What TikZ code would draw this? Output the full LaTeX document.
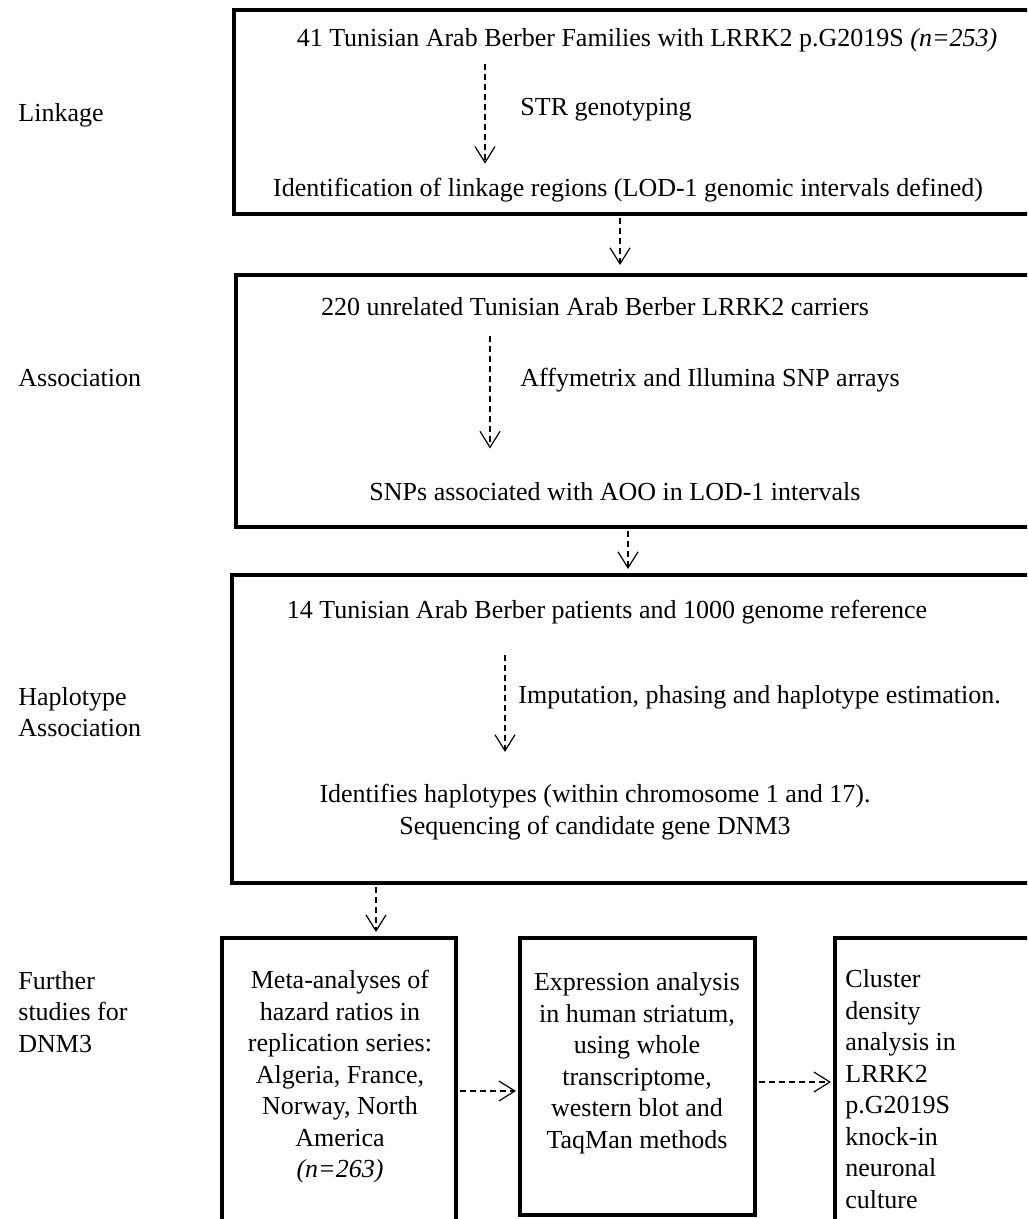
\documentclass[tikz,border=0pt]{standalone}
\usepackage{fontspec}
\setmainfont{Liberation Serif}
\usetikzlibrary{arrows.meta}
\tikzset{
    stage/.style={draw, line width=2pt, inner sep=0pt},
    txt/.style={inner sep=0pt, font=\fontsize{13pt}{15.75pt}\selectfont},
    side/.style={txt, anchor=west, align=left},
    flow/.style={densely dashed, line width=0.6pt, -{Straight Barb[length=8pt,width=10pt]}},
}
\begin{document}
\begin{tikzpicture}[x=0.5pt, y=-0.5pt]
        \clip (0,0) rectangle (1027,1219);
        \fill[white] (0,0) rectangle (1027,1219);

        \node[stage, minimum width=405.5pt, minimum height=102pt]   (box1) at (639.5,112)  {};
        \node[stage, minimum width=404.5pt, minimum height=126pt]   (box2) at (640.5,401)  {};
        \node[stage, minimum width=406.5pt, minimum height=154pt]   (box3) at (638.5,729)  {};
        \node[stage, minimum width=117pt,   minimum height=151pt]   (box4) at (339,1089)   {};
        \node[stage, minimum width=117.5pt, minimum height=138.5pt] (box5) at (637.5,1076.5) {};
        \node[stage, minimum width=112.5pt, minimum height=151pt]   (box6) at (947.5,1089) {};

        \node[side] (linkage)   at (18,115)  {Linkage};
        \node[side] (assoc)     at (18,378)  {Association};
        \node[side] (haplo)     at (18,712)  {Haplotype\\Association};
        \node[side] (further)   at (18,1012) {Further\\studies for\\DNM3};

        \node[txt] (fam)   at (647,40)  {41 Tunisian Arab Berber Families with LRRK2 p.G2019S \textit{(n=253)}};
        \node[txt] (ident) at (628,190) {Identification of linkage regions (LOD-1 genomic intervals defined)};
        \node[side] (str)  at (520,110) {STR genotyping};

        \node[txt] (carriers) at (595,307) {220 unrelated Tunisian Arab Berber LRRK2 carriers};
        \node[side] (arrays)  at (520,380) {Affymetrix and Illumina SNP arrays};
        \node[txt] (snps)     at (615,492) {SNPs associated with AOO in LOD-1 intervals};

        \node[txt] (patients) at (607,612) {14 Tunisian Arab Berber patients and 1000 genome reference};
        \node[side] (imput)   at (518,697) {Imputation, phasing and haplotype estimation.};
        \node[txt, align=center] (haps) at (595,812) {Identifies haplotypes (within chromosome 1 and 17).\\Sequencing of candidate gene DNM3};

        \node[txt, align=center] (meta) at (340,1077) {Meta-analyses of\\hazard ratios in\\replication series:\\Algeria, France,\\Norway, North\\America\\\textit{(n=263)}};
        \node[txt, align=center] (expr) at (637,1063) {Expression analysis\\in human striatum,\\using whole\\transcriptome,\\western blot and\\TaqMan methods};
        \node[txt, anchor=west, align=left] (cluster) at (845,1089) {Cluster\\density\\analysis in\\LRRK2\\p.G2019S\\knock-in\\neuronal\\culture};

        \coordinate (x1) at (485,0);
        \coordinate (x2) at (490,0);
        \coordinate (x3) at (505,0);
        \coordinate (x12) at (620,0);
        \coordinate (x23) at (628,0);
        \coordinate (x34) at (376,0);
        \coordinate (y45) at (0,1091);
        \coordinate (y56) at (0,1082);

        \draw[flow, shorten <=6pt, shorten >=7pt] (fam.south -| x1) -- (ident.north -| x1);
        \draw[flow, shorten <=9.5pt, shorten >=17pt] (carriers.south -| x2) -- (snps.north -| x2);
        \draw[flow, shorten <=15.5pt, shorten >=16pt] (patients.south -| x3) -- (haps.north -| x3);

        \draw[flow, shorten <=1pt, shorten >=4pt] (box1.south -| x12) -- (box2.north -| x12);
        \draw[flow, shorten <=1pt, shorten >=2pt] (box2.south -| x23) -- (box3.north -| x23);
        \draw[flow, shorten <=1pt, shorten >=2pt] (box3.south -| x34) -- (box4.north -| x34);
        \draw[flow, shorten <=1pt, shorten >=1pt] (box4.east |- y45) -- (box5.west |- y45);
        \draw[flow, shorten <=1pt, shorten >=1pt] (box5.east |- y56) -- (box6.west |- y56);
    \end{tikzpicture}
\end{document}
